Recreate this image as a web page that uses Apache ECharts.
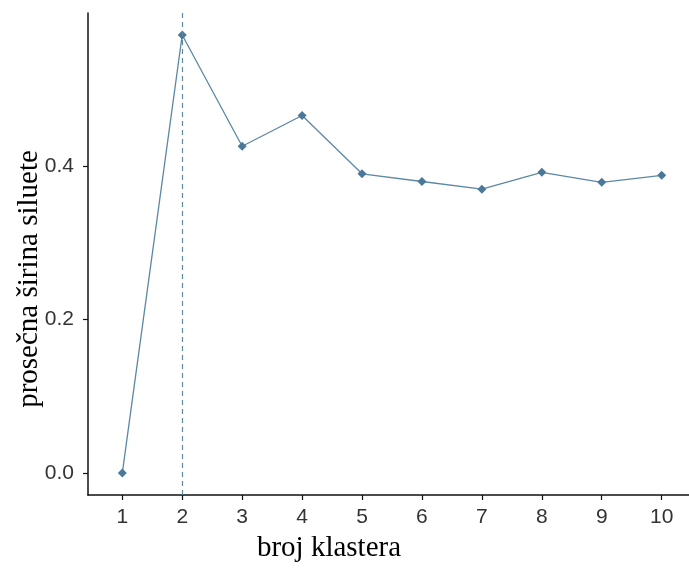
<!DOCTYPE html>
<html>
<head>
<meta charset="utf-8">
<script src="https://cdn.jsdelivr.net/npm/echarts@6/dist/echarts.min.js"></script>
<style>html,body{margin:0;padding:0;background:#fff;}#c{width:689px;height:568px;}</style>
</head>
<body>
<div id="c"></div>
<script>
const clusters = [1, 2, 3, 4, 5, 6, 7, 8, 9, 10];
const silhouette = [0.0, 0.571, 0.426, 0.466, 0.390, 0.380, 0.370, 0.392, 0.379, 0.388];
const yTicks = [0.0, 0.2, 0.4];
const optimalK = 2;
const xTitle = 'broj klastera';
const yTitle = 'prosečna širina siluete';

const chart = echarts.init(document.getElementById('c'), null, {renderer: 'canvas'});
const lineColor = '#5b88a4';
const markColor = '#4a7898';
chart.setOption({
  animation: false,
  backgroundColor: '#fff',
  grid: {left: 88, right: 0, top: 13, bottom: 73, containLabel: false},
  xAxis: {
    type: 'value', min: 0.4277, max: 10.456,
    axisLine: {show: true, onZero: false, lineStyle: {color: '#111', width: 1.5}},
    axisTick: {show: true, length: 5, lineStyle: {color: '#111', width: 1.2}, customValues: clusters},
    axisLabel: {color: '#333', fontSize: 21, fontFamily: 'Liberation Sans, Arial', margin: 12, customValues: clusters},
    splitLine: {show: false}
  },
  yAxis: {
    type: 'value', min: -0.02855, max: 0.5996,
    axisLine: {show: true, onZero: false, lineStyle: {color: '#111', width: 1.5}},
    axisTick: {show: true, length: 5, lineStyle: {color: '#111', width: 1.2}, customValues: yTicks},
    axisLabel: {color: '#333', fontSize: 21, fontFamily: 'Liberation Sans, Arial', margin: 14, customValues: yTicks,
      formatter: v => v.toFixed(1)},
    splitLine: {show: false}
  },
  graphic: [
    {type: 'text', x: 329, y: 548, style: {text: xTitle, font: '29px "Liberation Serif", "Times New Roman", serif', fill: '#000', textAlign: 'center', textVerticalAlign: 'middle'}},
    {type: 'text', x: 29, y: 279, rotation: Math.PI / 2, style: {text: yTitle, font: '29px "Liberation Serif", "Times New Roman", serif', fill: '#000', textAlign: 'center', textVerticalAlign: 'middle'}}
  ],
  series: [{
    type: 'line',
    data: clusters.map((k, i) => [k, silhouette[i]]),
    symbol: 'diamond', symbolSize: 9,
    lineStyle: {color: lineColor, width: 1.3},
    itemStyle: {color: markColor},
    markLine: {
      silent: true, symbol: 'none', label: {show: false},
      lineStyle: {color: '#5b8aa0', type: [5, 4], width: 1.2},
      data: [{xAxis: optimalK}]
    }
  }]
});
</script>
</body>
</html>
